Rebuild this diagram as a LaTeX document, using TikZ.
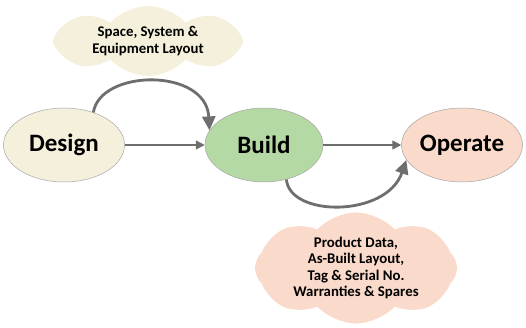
\documentclass[tikz,border=0pt]{standalone}
\usepackage{fontspec}
\setmainfont{Carlito}
\usepackage{xcolor}
\usepackage{tikz}
\usetikzlibrary{positioning, arrows.meta, shapes.symbols, shapes.geometric}
\definecolor{creamfill}{HTML}{F5F0DC}
\definecolor{greenfill}{HTML}{B5D9A5}
\definecolor{peachfill}{HTML}{FADACA}
\definecolor{arrowgray}{HTML}{6E6E6E}

\begin{document}
\begin{tikzpicture}[x=1pt, y=1pt,
    stage/.style={ellipse, draw=gray!70, line width=0.5pt, minimum width=121pt, minimum height=74pt,
                  inner sep=0pt, font=\bfseries\fontsize{25}{30}\selectfont},
    puff/.style={cloud, cloud puffs=8, cloud puff arc=95, cloud ignores aspect, align=center,
                 inner sep=0pt, font=\bfseries\fontsize{14.8}{16.5}\selectfont},
    flow/.style={draw=arrowgray, line width=1.4pt, -{Triangle[length=9pt, width=9pt]}},
    loop/.style={draw=arrowgray, line width=2.8pt, -{Triangle[length=14pt, width=13pt]}}]
    \useasboundingbox (0,0) rectangle (526,327);

    % the three stages
    \node[stage, fill=creamfill] (design) at (64,182) {Design};
    \node[stage, fill=greenfill, minimum width=118pt] (build) at (264,182) {Build};
    \node[stage, fill=peachfill] (operate) at (462,182) {Operate};

    % the two clouds
    \node[puff, fill=creamfill, minimum width=190pt, minimum height=70pt] (layoutcloud) at (148,286)
        {Space, System \&\\Equipment Layout};
    \node[puff, fill=peachfill, minimum width=202pt, minimum height=109pt] (datacloud) at (356,59)
        {Product Data,\\As-Built Layout,\\Tag \& Serial No.\\Warranties \& Spares};

    % connectors
    \draw[flow] (design) -- (build);
    \draw[flow] (build) -- (operate);
    \draw[loop] (design.48) .. controls +(81:44) and +(93:63) .. (build.165);
    \draw[loop] (build.-57) .. controls +(-85:38) and +(251:61) .. (operate.195);
\end{tikzpicture}
\end{document}
